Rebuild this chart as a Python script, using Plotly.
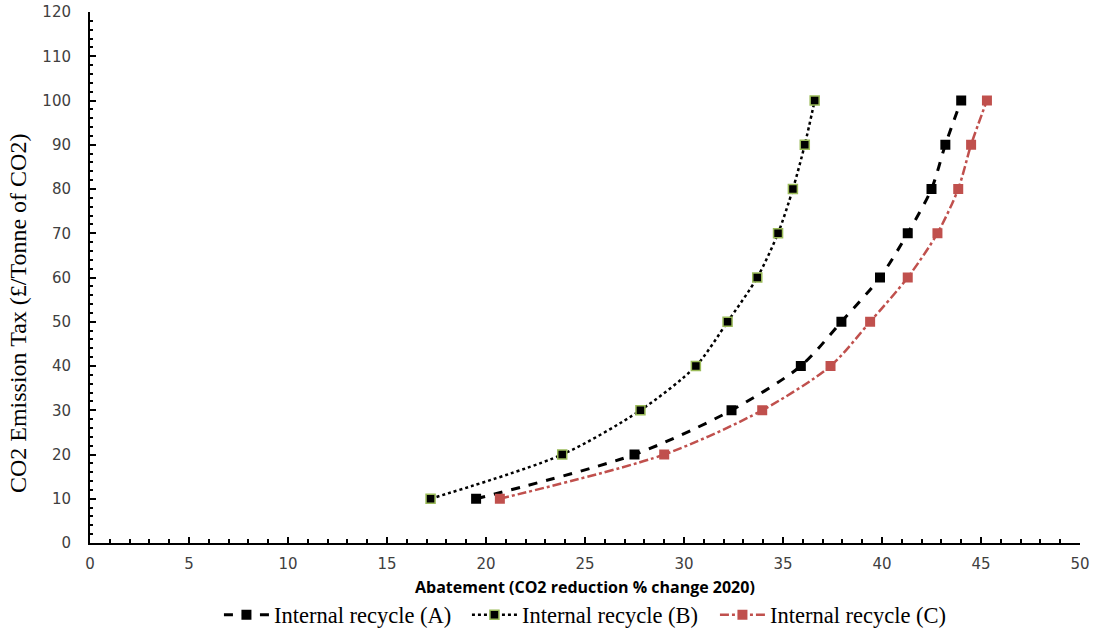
import plotly.graph_objects as go

tax = [10, 20, 30, 40, 50, 60, 70, 80, 90, 100]
abate_a = [19.5, 27.5, 32.4, 35.9, 37.95, 39.9, 41.3, 42.5, 43.2, 44.0]
abate_b = [17.2, 23.85, 27.8, 30.6, 32.2, 33.7, 34.75, 35.5, 36.1, 36.6]
abate_c = [20.7, 29.0, 33.95, 37.4, 39.4, 41.3, 42.8, 43.85, 44.5, 45.3]
names = ["Internal recycle (A)", "Internal recycle (B)", "Internal recycle (C)"]
x_title = "<b>Abatement (CO2 reduction % change 2020)</b>"
y_title = "CO2 Emission Tax (£/Tonne of CO2)"

fig = go.Figure()
fig.add_trace(go.Scatter(
    x=abate_a, y=tax, name=names[0], mode="lines+markers",
    line=dict(color="black", width=3, dash="dash", shape="spline", smoothing=0.8),
    marker=dict(symbol="square", size=10, color="black"),
))
fig.add_trace(go.Scatter(
    x=abate_b, y=tax, name=names[1], mode="lines+markers",
    line=dict(color="black", width=2.5, dash="dot", shape="spline", smoothing=0.8),
    marker=dict(symbol="square", size=9, color="black", line=dict(color="#9BBB59", width=1.5)),
))
fig.add_trace(go.Scatter(
    x=abate_c, y=tax, name=names[2], mode="lines+markers",
    line=dict(color="#C0504D", width=2.5, dash="dashdot", shape="spline", smoothing=0.8),
    marker=dict(symbol="square", size=10, color="#C0504D"),
))

fig.update_layout(
    width=1094, height=628,
    margin=dict(l=90, r=14, t=12, b=85),
    plot_bgcolor="white", paper_bgcolor="white",
    showlegend=True,
    legend=dict(orientation="h", x=0.506, xanchor="center",
                yref="container", y=1 - 615 / 628, yanchor="middle",
                font=dict(family="Liberation Serif", size=22.5, color="black"),
                itemwidth=45, entrywidth=188, tracegroupgap=0),
    xaxis=dict(
        range=[0, 50], dtick=5, tick0=0, showgrid=False, zeroline=False, automargin=False,
        showline=True, linecolor="black", linewidth=2,
        ticks="inside", ticklen=6, tickwidth=2, tickcolor="black",
        minor=dict(dtick=1, ticks="inside", ticklen=4, tickwidth=2, tickcolor="black"),
        tickfont=dict(family="DejaVu Sans", size=15, color="#404040"),
        ticklabelstandoff=6, ticklabeloverflow="allow",
    ),
    yaxis=dict(
        range=[0, 120], dtick=10, tick0=0, showgrid=False, zeroline=False, automargin=False,
        showline=True, linecolor="black", linewidth=2,
        ticks="inside", ticklen=6, tickwidth=2, tickcolor="black",
        minor=dict(dtick=2, ticks="inside", ticklen=3, tickwidth=1.5, tickcolor="black"),
        tickfont=dict(family="DejaVu Sans", size=15, color="#404040"),
        ticklabelstandoff=14, ticklabeloverflow="allow",
    ),
    annotations=[
        dict(text=x_title, xref="paper", yref="paper", x=0.5, y=-0.0829,
             xanchor="center", yanchor="middle", showarrow=False,
             font=dict(family="Open Sans", size=16, color="black")),
        dict(text=y_title, xref="paper", yref="paper", x=-0.0727, y=0.433,
             xanchor="center", yanchor="middle", showarrow=False, textangle=-90,
             font=dict(family="Liberation Serif", size=24, color="black")),
    ],
)

fig.write_html("out.html", config={"displayModeBar": False},
               post_script="document.body.style.margin='0';document.body.style.overflow='hidden';")
